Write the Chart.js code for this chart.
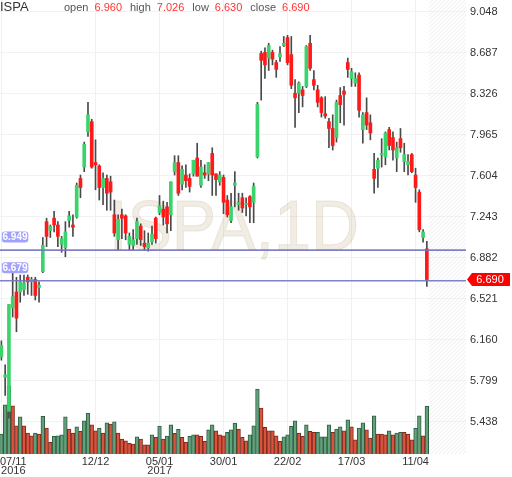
<!DOCTYPE html>
<html lang="en">
<head>
    <meta charset="UTF-8">
    <title>ISPA, 1D</title>
    <style>
        html, body { margin: 0; padding: 0; background: #fff; }
        #wrap { width: 512px; height: 477px; }
    </style>
</head>
<body>
<div id="wrap"><canvas id="chart" width="512" height="477"></canvas></div>

<script src="https://cdn.jsdelivr.net/npm/chart.js"></script>
<script>
// daily bars, 07/11/2016 .. 18/04/2017
const symbol = 'ISPA';
const open  = [6.01,5.83,5.53,6.44,6.58,6.58,6.60,6.71,6.67,6.69, 6.62,6.76,7.20,7.12,7.23,7.17,7.00,6.97,7.21,7.17,
               7.24,7.58,7.68,7.99,8.08,7.72,7.69,7.50,7.58,7.55, 7.26,7.04,7.26,7.25,7.00,6.99,7.05,7.16,7.01,6.97,
               7.02,7.23,7.28,7.31,7.33,7.26,7.64,7.72,7.53,7.61, 7.58,7.62,7.76,7.52,7.63,7.62,7.80,7.62,7.55,7.59,
               7.39,7.21,7.52,7.35,7.41,7.35,7.42,7.37,7.77,8.68, 8.69,8.64,8.69,8.60,8.65,8.75,8.82,8.67,8.33,8.33,
               8.36,8.39,8.77,8.45,8.36,8.29,8.15,8.08,8.02,7.94, 8.31,8.35,8.60,8.46,8.42,8.49,8.01,8.16,8.07,7.66,
               7.67,7.79,7.77,8.01,7.94,7.76,7.93,7.73,7.70,7.79, 7.61,7.46,7.06,6.96];
const high  = [6.15,5.94,6.47,6.76,6.71,6.73,6.73,6.73,6.71,6.71, 6.67,7.06,7.23,7.17,7.29,7.20,7.07,7.20,7.29,7.26,
               7.54,7.61,7.90,8.25,8.10,7.92,7.70,7.63,7.61,7.60, 7.39,7.26,7.31,7.26,7.10,7.13,7.23,7.18,7.12,7.10,
               7.16,7.24,7.43,7.38,7.37,7.55,7.78,7.78,7.69,7.70, 7.62,7.74,7.89,7.74,7.70,7.72,7.85,7.62,7.64,7.61,
               7.43,7.45,7.64,7.45,7.45,7.41,7.43,7.54,8.25,8.70, 8.73,8.77,8.71,8.62,8.74,8.83,8.84,8.83,8.45,8.43,
               8.39,8.75,8.84,8.53,8.40,8.30,8.30,8.11,8.14,8.27, 8.38,8.39,8.64,8.55,8.51,8.51,8.16,8.29,8.14,7.80,
               7.76,7.93,7.99,8.03,7.99,7.90,8.02,7.89,7.79,7.80, 7.67,7.48,7.13,7.026];
const low   = [5.98,5.67,5.47,6.36,6.23,6.49,6.55,6.56,6.55,6.51, 6.49,6.75,6.98,7.06,7.11,6.98,6.93,6.89,7.15,7.07,
               7.23,7.41,7.64,7.95,7.67,7.48,7.39,7.35,7.30,7.30, 7.07,6.95,7.05,7.04,6.95,6.95,7.00,6.99,6.95,6.94,
               7.00,7.01,7.26,7.17,7.10,7.12,7.61,7.43,7.48,7.50, 7.46,7.60,7.60,7.50,7.58,7.56,7.43,7.43,7.52,7.27,
               7.24,7.19,7.33,7.30,7.28,7.25,7.19,7.19,7.76,8.27, 8.46,8.53,8.58,8.47,8.61,8.74,8.58,8.37,8.03,8.16,
               8.21,8.38,8.53,8.36,8.21,8.12,8.11,7.85,7.83,7.90, 8.07,8.05,8.47,8.39,8.39,8.12,7.89,8.01,7.92,7.45,
               7.50,7.68,7.70,7.83,7.74,7.64,7.81,7.64,7.61,7.63, 7.37,7.11,7.02,6.63];
const close = [6.11,5.85,6.47,6.54,6.35,6.67,6.66,6.67,6.69,6.55, 6.64,6.99,7.07,7.16,7.17,7.07,7.05,7.11,7.25,7.15,
               7.52,7.50,7.88,8.14,7.68,7.70,7.50,7.58,7.45,7.46, 7.10,7.22,7.23,7.10,7.07,7.04,7.20,7.04,6.98,7.01,
               7.09,7.05,7.34,7.24,7.18,7.55,7.72,7.45,7.66,7.56, 7.51,7.74,7.60,7.68,7.61,7.72,7.61,7.57,7.61,7.37,
               7.26,7.33,7.54,7.37,7.32,7.36,7.33,7.51,8.23,8.62, 8.58,8.75,8.63,8.54,8.68,8.77,8.60,8.40,8.29,8.42,
               8.31,8.74,8.55,8.40,8.25,8.16,8.13,8.02,7.87,8.25, 8.23,8.32,8.54,8.52,8.46,8.18,8.14,8.05,7.98,7.58,
               7.74,7.80,7.98,7.87,7.83,7.85,7.85,7.79,7.73,7.64, 7.50,7.13,7.11,6.69];
const volume = [80,197,273,193,113,149,113,84,73,84, 80,151,104,47,71,73,77,149,100,84,
                109,91,133,164,117,93,104,84,125,120, 129,84,60,53,43,40,69,60,37,37,
                77,67,112,60,72,117,83,99,67,47, 71,77,77,71,51,97,117,93,77,73,
                87,97,124,100,67,53,77,113,260,184, 107,93,93,73,51,69,77,111,133,84,
                71,117,91,87,87,69,69,117,87,100, 109,93,137,109,57,104,125,97,64,153,
                80,80,77,93,77,84,87,87,80,57, 103,153,73,192];
// 1 = up volume, 0 = down volume, as coloured in the picture
const volumeUp = [1,1,1,0,0,1,0,0,0,1, 0,1,0,0,1,1,1,1,0,0,
                  1,0,1,1,0,0,1,0,1,0, 1,0,0,0,0,0,1,0,0,0,
                  1,0,1,0,1,1,0,1,0,0, 1,1,0,0,0,1,1,0,0,0,
                  1,1,1,0,0,0,1,1,1,0, 0,0,0,0,0,1,1,1,1,0,
                  0,1,0,0,1,1,1,1,0,1, 1,0,1,0,0,1,1,0,0,1,
                  0,0,0,1,0,1,1,0,0,0, 1,1,0,1];

const tickIdx  = [0, 25, 42, 59, 76, 93, 110];
const tickText = ['07/11\n2016', '12/12', '05/01\n2017', '30/01', '22/02', '17/03', '11/04'];
const priceTicks = [9.048, 8.687, 8.326, 7.965, 7.604, 7.243, 6.882, 6.521, 6.160, 5.799, 5.438];
const levels = [6.949, 6.679];

const FONT = "'Liberation Sans', Arial, sans-serif";
const UP = '#3bd46c', DOWN = '#ff1a1a';
const idx = open.map((_, i) => i);
const last = open.length - 1;

const decor = {
    id: 'decor',
    beforeDatasetsDraw(chart) {
        const {ctx, chartArea: a, scales: {x}} = chart;
        // watermark
        ctx.save();
        ctx.font = '70px ' + FONT;
        const wm = symbol + ',1D';
        const w = ctx.measureText(wm).width;
        ctx.translate(234, 250);
        ctx.scale(250 / w, 1);
        ctx.fillStyle = 'rgba(190,175,135,0.22)';
        ctx.strokeStyle = 'rgba(190,175,135,0.25)';
        ctx.textAlign = 'center';
        ctx.textBaseline = 'alphabetic';
        ctx.fillText(wm, 0, 0);
        ctx.lineWidth = 1;
        ctx.strokeText(wm, 0, 0);
        ctx.restore();

        // hatched future area
        const xs = x.getPixelForValue(last + 0.5);
        ctx.save();
        ctx.beginPath();
        ctx.rect(xs, a.top, a.right - xs, a.bottom - a.top);
        ctx.clip();
        ctx.strokeStyle = '#ececec';
        ctx.lineWidth = 1;
        ctx.beginPath();
        const h = a.bottom - a.top;
        for (let k = -h; k < a.right - xs + 4; k += 4) {
            ctx.moveTo(xs + k, a.bottom);
            ctx.lineTo(xs + k + h, a.top);
        }
        ctx.stroke();
        ctx.restore();
    },
    afterDatasetsDraw(chart) {
        const {ctx, chartArea: a, scales: {y}} = chart;
        ctx.save();
        // horizontal levels with labels
        levels.forEach(v => {
            const py = y.getPixelForValue(v);
            ctx.strokeStyle = 'rgba(115,115,195,0.9)';
            ctx.lineWidth = 1.6;
            ctx.beginPath();
            ctx.moveTo(a.left, py);
            ctx.lineTo(a.right, py);
            ctx.stroke();
            ctx.fillStyle = '#a2a2fb';
            ctx.beginPath();
            ctx.roundRect(1.8, py - 18.5, 26.5, 11, 3);
            ctx.fill();
            ctx.fillStyle = '#fff';
            ctx.font = 'bold 10px ' + FONT;
            ctx.textAlign = 'center';
            ctx.textBaseline = 'middle';
            ctx.fillText(v.toFixed(3), 15, py - 12.7);
        });
        ctx.restore();
    },
    afterDraw(chart) {
        const {ctx, chartArea: a, scales: {x, y}} = chart;
        ctx.save();
        // last price marker on the axis
        const py = y.getPixelForValue(close[last]);
        ctx.fillStyle = '#ff0000';
        ctx.beginPath();
        ctx.moveTo(a.right + 1, py);
        ctx.lineTo(a.right + 6, py - 6.5);
        ctx.lineTo(a.right + 44, py - 6.5);
        ctx.lineTo(a.right + 44, py + 6.5);
        ctx.lineTo(a.right + 6, py + 6.5);
        ctx.closePath();
        ctx.fill();
        ctx.fillStyle = '#fff';
        ctx.font = '11px ' + FONT;
        ctx.textAlign = 'center';
        ctx.textBaseline = 'middle';
        ctx.fillText(close[last].toFixed(3), a.right + 24, py + 0.5);

        // date labels
        ctx.fillStyle = '#333';
        tickIdx.forEach((t, k) => {
            const lines = tickText[k].split('\n');
            const wMax = Math.max(...lines.map(s => ctx.measureText(s).width));
            const cx = Math.max(x.getPixelForValue(t), wMax / 2);
            lines.forEach((s, j) => ctx.fillText(s, cx, a.bottom + 8 + j * 9));
        });

        // header
        ctx.textAlign = 'left';
        ctx.font = '13px ' + FONT;
        ctx.fillStyle = '#333';
        ctx.fillText(symbol, 0, 7);
        ctx.font = '11px ' + FONT;
        let px = 64;
        [['open', open[last]], ['high', high[last]], ['low', low[last]], ['close', close[last]]].forEach(([lab, v]) => {
            ctx.fillStyle = '#555';
            ctx.fillText(lab, px, 8);
            px += ctx.measureText(lab).width + 6;
            ctx.fillStyle = '#ff3333';
            const s = v.toFixed(3);
            ctx.fillText(s, px, 8);
            px += ctx.measureText(s).width + 8;
        });
        ctx.restore();
    }
};

new Chart(document.getElementById('chart'), {
    type: 'bar',
    data: {
        datasets: [{
            // candle bodies
            data: idx.map(i => ({x: i, y: [open[i], close[i]]})),
            backgroundColor: c => close[c.dataIndex] >= open[c.dataIndex] ? UP : DOWN,
            barThickness: 3,
            minBarLength: 1,
            grouped: false,
            yAxisID: 'y',
            order: 1
        }, {
            // wicks
            data: idx.map(i => ({x: i, y: [low[i], high[i]]})),
            backgroundColor: '#4a4a4a',
            barThickness: 1,
            grouped: false,
            yAxisID: 'y',
            order: 2
        }, {
            data: idx.map(i => ({x: i, y: volume[i]})),
            backgroundColor: c => volumeUp[c.dataIndex] ? '#63a07c' : '#d9533d',
            borderColor: c => volumeUp[c.dataIndex] ? '#2f5e42' : '#7c2a1e',
            borderWidth: 1,
            barThickness: 3.7,
            grouped: false,
            yAxisID: 'vol',
            order: 3
        }]
    },
    options: {
        responsive: false,
        animation: false,
        layout: {padding: 0},
        plugins: {legend: {display: false}, tooltip: {enabled: false}},
        scales: {
            x: {
                type: 'linear',
                offset: false,
                min: -0.37,
                max: 123.4,
                grid: {color: '#f0f0f0', drawTicks: false, offset: false},
                border: {display: false},
                ticks: {display: false},
                afterBuildTicks: s => { s.ticks = tickIdx.map(v => ({value: v})); },
                afterFit: s => { s.height = 23; s.paddingLeft = 0; s.paddingRight = 0; }
            },
            y: {
                position: 'right',
                min: 5.154,
                max: 9.151,
                grid: {color: '#f2f2f2', drawTicks: false},
                border: {display: false},
                ticks: {
                    padding: 4,
                    color: '#333',
                    font: {family: FONT, size: 11},
                    callback: v => v.toFixed(3)
                },
                afterBuildTicks: s => { s.ticks = priceTicks.map(v => ({value: v})); },
                afterFit: s => { s.width = 46; s.paddingTop = 0; s.paddingBottom = 0; }
            },
            vol: {
                axis: 'y',
                position: 'left',
                display: false,
                min: 0,
                max: 1816
            }
        }
    },
    plugins: [decor]
});
</script>
</body>
</html>
